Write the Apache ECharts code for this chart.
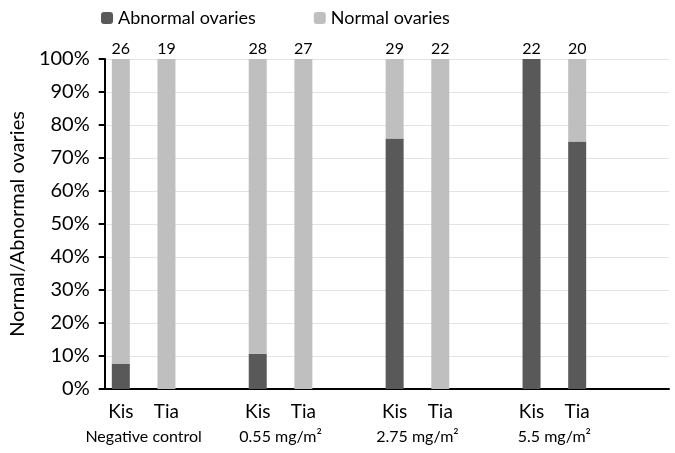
<!DOCTYPE html>
<html lang="en">
<head>
<meta charset="UTF-8">
<title>Ovaries</title>
<script src="https://cdn.jsdelivr.net/npm/echarts@6/dist/echarts.min.js"></script>
<style>
  html, body { margin: 0; padding: 0; background: #fff; }
  #main { width: 675px; height: 453px; }
</style>
</head>
<body>
<div id="main"></div>
<script>
// bars: Kis, Tia, gap, ...
var categories = ['Kis', 'Tia', '', 'Kis', 'Tia', '', 'Kis', 'Tia', '', 'Kis', 'Tia'];
var groups = ['Negative control', '0.55 mg/m²', '2.75 mg/m²', '5.5 mg/m²'];
var groupPos = [0.5, 3.5, 6.5, 9.5];
var abnormal = [7.7, 0, null, 10.7, 0, null, 75.9, 0, null, 100, 75];
var normal = [92.3, 100, null, 89.3, 100, null, 24.1, 100, null, 0, 25];
var counts = [26, 19, '', 28, 27, '', 29, 22, '', 22, 20];

var font = 'Lato';
var chart = echarts.init(document.getElementById('main'));

var option = {
    animation: false,
    textStyle: { fontFamily: font, color: '#000' },
    legend: {
        left: 96,
        top: 4,
        itemWidth: 12,
        itemHeight: 12,
        itemGap: 58,
        textStyle: { fontSize: 18, color: '#000', fontFamily: font },
        data: ['Abnormal ovaries', 'Normal ovaries']
    },
    grid: [
        { left: 93, right: 6, top: 59, bottom: 64 },   // frame: y axis, gridlines
        { left: 98, right: 75, top: 59, bottom: 64 }   // bars
    ],
    xAxis: [
        {
            gridIndex: 0, type: 'value', min: 0, max: 1,
            axisLine: { show: true, lineStyle: { color: '#000', width: 2 } },
            axisTick: { show: false }, axisLabel: { show: false }, splitLine: { show: false }
        },
        {
            gridIndex: 1, type: 'category', data: categories, position: 'bottom',
            axisLine: { show: false }, axisTick: { show: false },
            axisLabel: { fontSize: 19, color: '#000', margin: 13, interval: 0 }
        },
        {
            gridIndex: 1, type: 'value', position: 'bottom',
            min: -0.5, max: categories.length - 0.5,
            axisLine: { show: false }, axisTick: { show: false }, splitLine: { show: false },
            axisLabel: {
                customValues: groupPos, fontSize: 16, color: '#000', margin: 40,
                formatter: function (v) { return groups[groupPos.indexOf(v)]; }
            }
        }
    ],
    yAxis: [
        {
            gridIndex: 0, type: 'value', min: 0, max: 100, interval: 10,
            name: 'Normal/Abnormal ovaries', nameLocation: 'middle', nameGap: 73,
            nameTextStyle: { fontSize: 20, color: '#000' },
            axisLine: { show: true, lineStyle: { color: '#000', width: 2 } },
            axisTick: { show: true, length: 6, lineStyle: { color: '#000', width: 2 } },
            axisLabel: { fontSize: 20, color: '#000', margin: 15, formatter: '{value}%' },
            splitLine: { lineStyle: { color: '#e3e3e3', width: 1 } }
        },
        {
            gridIndex: 1, type: 'value', min: 0, max: 100, show: false
        }
    ],
    series: [
        {
            name: 'Abnormal ovaries', type: 'bar', stack: 'a',
            xAxisIndex: 1, yAxisIndex: 1, barWidth: 18,
            itemStyle: { color: '#595959' },
            data: abnormal
        },
        {
            name: 'Normal ovaries', type: 'bar', stack: 'a',
            xAxisIndex: 1, yAxisIndex: 1, barWidth: 18,
            itemStyle: { color: '#bfbfbf' },
            label: {
                show: true, position: 'top', distance: 2, fontSize: 16, color: '#000',
                formatter: function (p) { return counts[p.dataIndex]; }
            },
            data: normal
        }
    ]
};

chart.setOption(option);
</script>
</body>
</html>
